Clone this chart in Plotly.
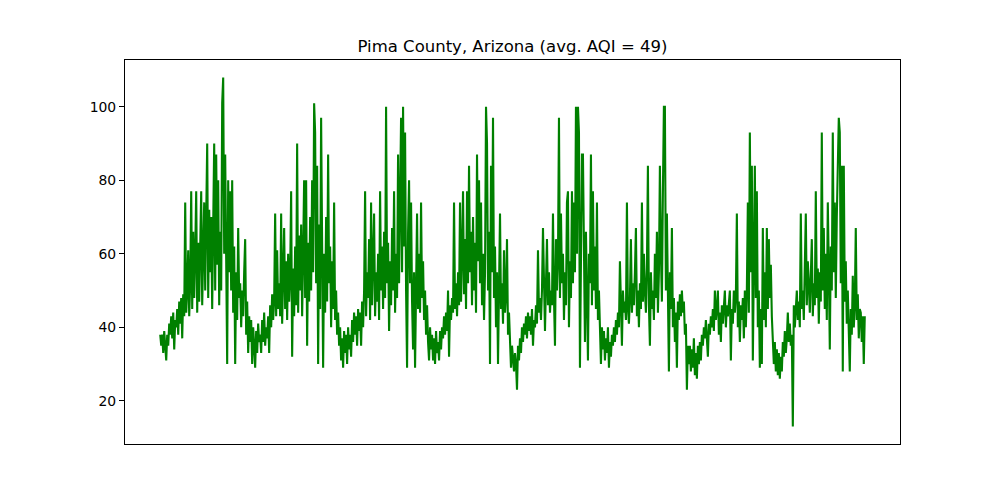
import plotly.graph_objects as go

# Daily AQI readings (approximate), split in seasonal blocks
season_1 = [38,35,38,33,39,36,31,38,35,41, 38,43,37,44,34,42,40,45,38,47,
            41,48,37,49,43,74,44,50,61,43, 52,77,45,66,48,60,77,44,63,47,
            58,77,46,68,74,50,65,90,48,72, 55,70,45,77,90,50,87,57,80,46,
            66,50,101,108,60,87,52,30,80,55, 77,50,80,44,62,30,55,42,67,48,
            52,40,50,43,55,64,38,47,33,43, 36,42,30,40,35,29,39,33,41,36]
season_2 = [38,33,42,36,44,35,40,37,43,33, 46,40,49,42,47,71,43,61,45,52,
            43,71,41,55,67,45,58,42,60,47, 54,77,32,56,43,62,46,90,44,65,
            50,68,43,60,80,48,80,35,63,47, 70,50,80,55,101,93,52,84,30,68,
            45,97,48,29,60,44,70,47,87,52, 62,40,58,45,74,42,50,38,44,35,
            40,31,37,29,39,33,38,30,40,34]
season_3 = [38,32,42,36,44,38,43,35,45,39, 44,35,47,40,50,77,43,55,48,64,
            42,74,46,58,71,43,55,47,60,42, 77,50,62,45,66,48,100,52,63,39,
            58,46,67,50,77,44,60,48,87,52, 70,97,55,100,62,93,50,29,66,80,
            52,74,47,34,55,29,50,71,45,60, 44,74,48,58,42,50,38,46,36,31]
season_4 = [40,34,38,31,37,30,39,33,36,31, 39,34,40,37,43,38,44,39,50,32,
            46,42,48,44,74,45,52,43,55,46, 74,47,60,77,49,64,45,77,52,84,
            55,66,46,70,50,63,44,87,58,80, 52,74,46,60,42,55,100,90,50,66,
            30,84,55,97,48,62,40,55,30,50, 71,45,52,41,61,44,49,64,38,44]
season_5 = [34,29,35,31,28,33,30,23,35,31, 37,33,40,36,41,38,43,37,44,39,
            43,38,45,35,42,40,46,41,61,44, 48,42,50,67,45,39,52,64,46,55,
            44,50,46,71,48,35,64,50,58,97, 48,71,52,60,42,55,46,74,77,40,
            58,48,77,52,74,55,100,60,100,93, 29,70,87,87,55,36,66,48,31,60,
            52,87,46,77,50,62,45,74,42,50]
season_6 = [38,30,40,34,39,31,37,33,40,29, 36,32,38,35,40,36,42,38,44,40,
            58,43,35,50,44,47,42,74,45,41, 48,64,44,52,46,55,67,43,50,40,
            52,45,74,47,60,50,44,56,84,46, 35,55,45,50,42,60,48,66,44,55,
            84,60,47,77,100,100,50,71,42,28, 55,45,67,40,48,36,44,29,47,42]
season_7 = [49,43,50,44,47,38,41,23,35,30, 35,28,34,29,37,27,33,26,35,30,
            36,31,38,35,40,37,42,38,32,41, 38,43,40,45,39,50,42,45,50,38,
            44,36,46,41,48,50,40,46,43,48, 50,31,45,41,50,44,48,71,40,47,
            36,46,42,48,37,50,40,50,74,44, 93,55,84,31,62,84,48,77,40,50,
            29,45,30,67,42,55,40,67,45,64]
season_8 = [48,57,43,38,30,36,28,34,27,33, 26,32,28,36,32,39,33,37,44,36,
            41,35,38,13,46,40,45,50,42,47, 40,71,45,50,42,55,71,46,58,52,
            44,54,64,43,52,46,77,48,56,41, 55,47,93,50,67,45,60,42,74,56,
            34,62,50,93,55,74,48,70,87,97, 93,52,84,28,84,47,58,41,50,39,
            28,45,38,54,40,46,67,42,49,37, 45,44,36,43,30,43]

aqi = season_1 + season_2 + season_3 + season_4 + season_5 + season_6 + season_7 + season_8
days = list(range(len(aqi)))

title_text = "Pima County, Arizona (avg. AQI = 49)"
y_ticks = [20, 40, 60, 80, 100]

n = len(aqi)
xr = [-0.05 * (n - 1), 1.05 * (n - 1)]
ymin, ymax = min(aqi), max(aqi)
yr = [ymin - 0.05 * (ymax - ymin), ymax + 0.05 * (ymax - ymin)]

fig = go.Figure()
fig.add_trace(go.Scatter(x=days, y=aqi, mode="lines",
                         line=dict(color="#008000", width=2.1),
                         hoverinfo="skip", showlegend=False))

fig.update_layout(
    width=1000, height=500,
    paper_bgcolor="white", plot_bgcolor="white",
    margin=dict(l=117, r=108, t=52, b=64),
    font=dict(family="DejaVu Sans", color="black"),
    title=dict(text=title_text, x=0.5, xref="paper", xanchor="center",
               y=1 - 38 / 500, yref="container", yanchor="middle",
               font=dict(size=16.5, family="DejaVu Sans", color="black")),
)
fig.update_xaxes(range=xr, showticklabels=False, ticks="", showgrid=False,
                 zeroline=False, showline=True, mirror=True,
                 linecolor="black", linewidth=1.1)
fig.update_yaxes(range=yr, tickvals=y_ticks, ticktext=[str(v) for v in y_ticks],
                 ticks="outside", ticklen=5, tickwidth=1.1, tickcolor="black",
                 tickfont=dict(size=13.9, family="DejaVu Sans", color="black"),
                 showgrid=False, zeroline=False, showline=True, mirror=True,
                 linecolor="black", linewidth=1.1)

fig.write_html("out.html")
